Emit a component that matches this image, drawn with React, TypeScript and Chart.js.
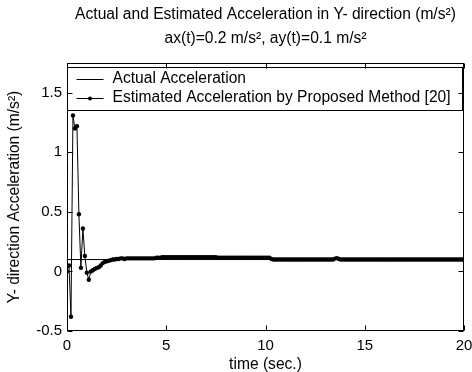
import React, { useEffect, useRef } from "react";
import { Chart, registerables } from "chart.js";

Chart.register(...registerables);

const titleLine1 = "Actual and Estimated Acceleration in Y- direction (m/s²)";
const titleLine2 = "ax(t)=0.2 m/s², ay(t)=0.1 m/s²";
const xAxisTitle = "time (sec.)";
const yAxisTitle = "Y- direction Acceleration (m/s²)";
const legendLabels = ["Actual Acceleration", "Estimated Acceleration by Proposed Method [20]"];

const xTicks = [0, 5, 10, 15, 20];
const yTicks = [-0.5, 0, 0.5, 1, 1.5];
const xRange = [0, 20];
const yRange = [-0.5, 1.75];

const actualTimes = [0, 20];
const actualValues = [0.1, 0.1];

// Estimated acceleration sampled every 0.1 s from t = 0 to t = 20
const sampleStep = 0.1;
const estimatedValues = [
  0, 0.05, -0.38, 1.31, 1.2, 1.22, 0.48, 0.03, 0.36, 0.13,
  -0.01, -0.07, 0.0, 0.01, 0.02, 0.03, 0.035, 0.05, 0.07, 0.08,
  0.085, 0.09, 0.095, 0.1, 0.1, 0.105, 0.105, 0.11, 0.11, 0.105,
  0.11, 0.11, 0.11, 0.11, 0.11, 0.11, 0.11, 0.11, 0.11, 0.11,
  0.11, 0.11, 0.11, 0.11, 0.11, 0.115, 0.115, 0.115, 0.12, 0.12,
  0.12, 0.12, 0.12, 0.12, 0.12, 0.12, 0.12, 0.12, 0.12, 0.12,
  0.12, 0.12, 0.12, 0.12, 0.12, 0.12, 0.12, 0.12, 0.12, 0.12,
  0.12, 0.12, 0.12, 0.12, 0.12, 0.12, 0.115, 0.115, 0.115, 0.115,
  0.115, 0.115, 0.115, 0.115, 0.115, 0.115, 0.115, 0.115, 0.115, 0.115,
  0.115, 0.115, 0.115, 0.115, 0.115, 0.115, 0.115, 0.115, 0.115, 0.115,
  0.115, 0.115, 0.115, 0.105, 0.1, 0.1, 0.1, 0.1, 0.1, 0.1,
  0.1, 0.1, 0.1, 0.1, 0.1, 0.1, 0.1, 0.1, 0.1, 0.1,
  0.1, 0.1, 0.1, 0.1, 0.1, 0.1, 0.1, 0.1, 0.1, 0.1,
  0.1, 0.1, 0.1, 0.1, 0.1, 0.108, 0.112, 0.105, 0.1, 0.1,
  0.1, 0.1, 0.1, 0.1, 0.1, 0.1, 0.1, 0.1, 0.1, 0.1,
  0.1, 0.1, 0.1, 0.1, 0.1, 0.1, 0.1, 0.1, 0.1, 0.1,
  0.1, 0.1, 0.1, 0.1, 0.1, 0.1, 0.1, 0.1, 0.1, 0.1,
  0.1, 0.1, 0.1, 0.1, 0.1, 0.1, 0.1, 0.1, 0.1, 0.1,
  0.1, 0.1, 0.1, 0.1, 0.1, 0.1, 0.1, 0.1, 0.1, 0.1,
  0.1, 0.1, 0.1, 0.1, 0.1, 0.1, 0.1, 0.1, 0.1, 0.1,
  0.1,
];

const FONT = "'Liberation Sans', Arial, sans-serif";
const TEXT_SIZE = 15.6;
const TICK_SIZE = 15;

const decorPlugin = {
  id: "decor",
  afterDatasetsDraw(chart: any) {
    const { ctx, chartArea: a } = chart;
    ctx.save();
    const l = Math.round(a.left) + 0.5;
    const r = Math.round(a.right) - 1.5;
    const t = Math.round(a.top) + 4.5;
    const b = Math.round(a.top) + 47.5;
    ctx.fillStyle = "#fff";
    ctx.fillRect(l, t, r - l, b - t);
    ctx.strokeStyle = "#000";
    ctx.lineWidth = 1;
    ctx.strokeRect(l, t, r - l, b - t);
    const rows = [t + 11.5, t + 30];
    const x0 = l + 9;
    const x1 = l + 36;
    ctx.font = `${TEXT_SIZE}px ${FONT}`;
    ctx.textBaseline = "middle";
    ctx.textAlign = "left";
    ctx.fillStyle = "#000";
    rows.forEach((y, i) => {
      ctx.beginPath();
      ctx.moveTo(x0, Math.round(y) + 0.5);
      ctx.lineTo(x1, Math.round(y) + 0.5);
      ctx.stroke();
      if (i === 1) {
        ctx.beginPath();
        ctx.arc((x0 + x1) / 2, Math.round(y) + 0.5, 2, 0, Math.PI * 2);
        ctx.fill();
      }
      ctx.fillText(legendLabels[i], l + 45, y);
    });
    ctx.restore();
  },
  afterDraw(chart: any) {
    const { ctx, chartArea: a, scales } = chart;
    ctx.save();
    ctx.strokeStyle = "#000";
    ctx.lineWidth = 1;
    const L = Math.round(a.left) + 0.5;
    const R = Math.round(a.right) - 0.5;
    const T = Math.round(a.top) + 0.5;
    const B = Math.round(a.bottom) - 0.5;
    ctx.strokeRect(L, T, R - L, B - T);
    const tl = 5;
    ctx.beginPath();
    xTicks.forEach((v) => {
      const px = Math.round(scales.x.getPixelForValue(v)) + 0.5;
      ctx.moveTo(px, B);
      ctx.lineTo(px, B - tl);
      ctx.moveTo(px, T);
      ctx.lineTo(px, T + tl);
    });
    yTicks.forEach((v) => {
      const py = Math.round(scales.y.getPixelForValue(v)) + 0.5;
      ctx.moveTo(L, py);
      ctx.lineTo(L + tl, py);
      ctx.moveTo(R, py);
      ctx.lineTo(R - tl, py);
    });
    ctx.stroke();

    const cx = (a.left + a.right) / 2;
    ctx.fillStyle = "#000";
    ctx.textAlign = "center";
    ctx.textBaseline = "middle";
    ctx.font = `${TEXT_SIZE}px ${FONT}`;
    ctx.fillText(titleLine1, cx, 15);
    ctx.fillText(titleLine2, cx, 39);
    ctx.fillText(xAxisTitle, cx, 365);
    ctx.translate(15, (a.top + a.bottom) / 2);
    ctx.rotate(-Math.PI / 2);
    ctx.fillText(yAxisTitle, 0, 0);
    ctx.restore();
  },
};

export default function App() {
  const canvasRef = useRef<HTMLCanvasElement | null>(null);

  useEffect(() => {
    const canvas = canvasRef.current;
    if (!canvas) return;
    const estimatedPoints = estimatedValues.map((v, i) => ({ x: i * sampleStep, y: v }));
    const actualPoints = actualTimes.map((tt, i) => ({ x: tt, y: actualValues[i] }));
    const chart = new Chart(canvas, {
      type: "line",
      data: {
        datasets: [
          {
            label: legendLabels[0],
            data: actualPoints,
            borderColor: "#000",
            borderWidth: 1,
            pointRadius: 0,
            tension: 0,
          },
          {
            label: legendLabels[1],
            data: estimatedPoints,
            borderColor: "#000",
            backgroundColor: "#000",
            borderWidth: 1,
            pointRadius: 2.2,
            pointBorderWidth: 0,
            pointBackgroundColor: "#000",
            tension: 0,
          },
        ],
      },
      options: {
        responsive: false,
        animation: false,
        devicePixelRatio: 1,
        layout: { padding: { top: 63, right: 8, left: 0, bottom: 0 } },
        plugins: {
          legend: { display: false },
          title: { display: false },
          tooltip: { enabled: false },
        },
        scales: {
          x: {
            type: "linear",
            min: xRange[0],
            max: xRange[1],
            grid: { display: false, drawTicks: false },
            border: { display: false },
            afterFit: (s: any) => {
              s.height = 41;
              s.paddingLeft = 0;
              s.paddingRight = 0;
            },
            afterBuildTicks: (s: any) => {
              s.ticks = xTicks.map((v) => ({ value: v }));
            },
            ticks: {
              color: "#000",
              font: { family: FONT, size: TICK_SIZE },
              padding: 6,
              maxRotation: 0,
              callback: (v: any) => String(v),
            },
          },
          y: {
            type: "linear",
            min: yRange[0],
            max: yRange[1],
            grid: { display: false, drawTicks: false },
            border: { display: false },
            afterFit: (s: any) => {
              s.width = 67;
              s.paddingTop = 0;
              s.paddingBottom = 0;
            },
            afterBuildTicks: (s: any) => {
              s.ticks = yTicks.map((v) => ({ value: v }));
            },
            ticks: {
              color: "#000",
              font: { family: FONT, size: TICK_SIZE },
              padding: 5,
              callback: (v: any) => String(v),
            },
          },
        },
      },
      plugins: [decorPlugin],
    });
    return () => chart.destroy();
  }, []);

  return (
    <div style={{ position: "fixed", left: 0, top: 0, width: 472, height: 372, background: "#fff" }}>
      <canvas ref={canvasRef} width={472} height={372} style={{ width: 472, height: 372 }} />
    </div>
  );
}
